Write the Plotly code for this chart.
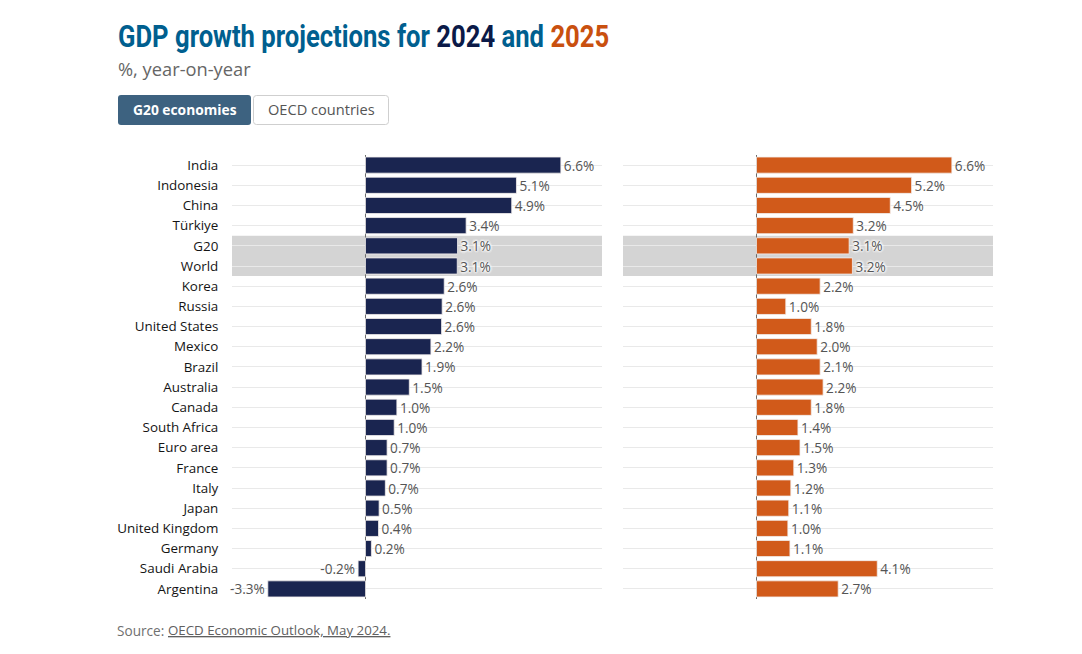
import plotly.graph_objects as go
from plotly.subplots import make_subplots

W = 1082
H = 654

countries = ['India', 'Indonesia', 'China', 'Türkiye', 'G20', 'World', 'Korea', 'Russia',
             'United States', 'Mexico', 'Brazil', 'Australia', 'Canada', 'South Africa',
             'Euro area', 'France', 'Italy', 'Japan', 'United Kingdom', 'Germany',
             'Saudi Arabia', 'Argentina']

# bar lengths, labels as printed
growth_2024 = [6.6, 5.1, 4.94, 3.4, 3.11, 3.1, 2.66, 2.59, 2.57, 2.21, 1.91, 1.48,
               1.06, 0.97, 0.73, 0.73, 0.67, 0.46, 0.44, 0.2, -0.25, -3.3]
growth_2025 = [6.6, 5.24, 4.52, 3.27, 3.13, 3.24, 2.15, 0.99, 1.85, 2.05, 2.15, 2.25,
               1.85, 1.4, 1.47, 1.26, 1.16, 1.09, 1.06, 1.13, 4.08, 2.76]
labels_2024 = ['6.6%', '5.1%', '4.9%', '3.4%', '3.1%', '3.1%', '2.6%', '2.6%', '2.6%', '2.2%', '1.9%',
               '1.5%', '1.0%', '1.0%', '0.7%', '0.7%', '0.7%', '0.5%', '0.4%', '0.2%', '-0.2%', '-3.3%']
labels_2025 = ['6.6%', '5.2%', '4.5%', '3.2%', '3.1%', '3.2%', '2.2%', '1.0%', '1.8%', '2.0%', '2.1%',
               '2.2%', '1.8%', '1.4%', '1.5%', '1.3%', '1.2%', '1.1%', '1.0%', '1.1%', '4.1%', '2.7%']
highlighted = ['G20', 'World']

NAVY = '#1a2550'
ORANGE = '#d15a1a'
FONT = 'Open Sans'
HALO = '0 0 3px #fff, 0 0 3px #fff, 0 0 3px #fff, 0 0 3px #fff, 0 0 3px #fff'


def px_x(x):
    return x / W


def px_y(y):
    return 1 - y / H


def rounded_rect(x0, y0, x1, y1, r=3):
    x0, x1 = px_x(x0), px_x(x1)
    y0, y1 = px_y(y0), px_y(y1)
    rx, ry = r / W, r / H
    return (f'M{x0 + rx},{y0} L{x1 - rx},{y0} Q{x1},{y0} {x1},{y0 - ry} L{x1},{y1 + ry} '
            f'Q{x1},{y1} {x1 - rx},{y1} L{x0 + rx},{y1} Q{x0},{y1} {x0},{y1 + ry} '
            f'L{x0},{y0 - ry} Q{x0},{y0} {x0 + rx},{y0} Z')


fig = make_subplots(rows=1, cols=2)

for col, values, labels, color in [(1, growth_2024, labels_2024, NAVY), (2, growth_2025, labels_2025, ORANGE)]:
    # highlighted rows go in their own trace, their labels get a white halo
    for special in [False, True]:
        rows = [i for i, c in enumerate(countries) if (c in highlighted) == special]
        fig.add_trace(go.Bar(y=[countries[i] for i in rows], x=[values[i] for i in rows], orientation='h',
                             text=[labels[i] for i in rows], textposition='outside', cliponaxis=False,
                             constraintext='none',
                             marker=dict(color=color, line=dict(color='#f2efee', width=0.8)),
                             textfont=dict(family=FONT, size=13.6, color='#555555',
                                           shadow=HALO if special else 'none'),
                             showlegend=False), row=1, col=col)

xaxis_style = dict(range=[-4.51, 7.99], showgrid=False, showticklabels=False, ticks='',
                   zeroline=True, zerolinecolor='#6b6b6b', zerolinewidth=1)
yaxis_style = dict(type='category', categoryorder='array', categoryarray=countries,
                   range=[21.5, -0.5], showgrid=True, gridcolor='#e9e9e9', gridwidth=1,
                   domain=[px_y(599), px_y(155)], showline=False)

fig.update_xaxes(domain=[px_x(232), px_x(602)], row=1, col=1, **xaxis_style)
fig.update_xaxes(domain=[px_x(623), px_x(993)], row=1, col=2, **xaxis_style)
fig.update_yaxes(row=1, col=1, ticks='outside', ticklen=10, tickcolor='rgba(0,0,0,0)',
                 tickfont=dict(family=FONT, size=13.4, color='#141414'), **yaxis_style)
fig.update_yaxes(row=1, col=2, showticklabels=False, **yaxis_style)

# grey band behind G20 and World
for xref in ['x domain', 'x2 domain']:
    fig.add_shape(type='rect', xref=xref, yref='y' if xref == 'x domain' else 'y2', x0=0, x1=1,
                  y0='G20', y1='World', y0shift=-0.5, y1shift=0.5, fillcolor='rgba(0,0,0,0.17)',
                  line_width=0, layer='below')

# fake tab buttons
fig.add_shape(type='path', xref='paper', yref='paper', path=rounded_rect(118, 95, 251, 125),
              fillcolor='#3d6280', line_width=0)
fig.add_shape(type='path', xref='paper', yref='paper', path=rounded_rect(253.5, 95.5, 388.5, 124.5),
              fillcolor='#ffffff', line=dict(color='#cfcfcf', width=1))


def note(x, y, text, size, color, **kwargs):
    fig.add_annotation(xref='paper', yref='paper', x=px_x(x), y=px_y(y), text=text, showarrow=False,
                       xanchor=kwargs.pop('xanchor', 'left'), yanchor='middle',
                       font=dict(family=FONT, size=size, color=color, **kwargs))


note(116, 68.5, '%, year-on-year', 18.3, '#666666')
note(184.5, 109.5, '<b>G20 economies</b>', 13.8, '#ffffff', xanchor='center')
note(321, 109, 'OECD countries', 14.6, '#555555', xanchor='center')
note(115, 630, 'Source:', 13.6, '#707070')
note(166, 630, 'OECD Economic Outlook, May 2024.', 13.3, '#606060', lineposition='under')

title_text = ('GDP growth projections for <span style="color:#0b1a48">2024</span> and '
              '<span style="color:#c9500f">2025</span>')

fig.update_layout(
    width=W, height=H,
    margin=dict(l=0, r=0, t=0, b=0),
    paper_bgcolor='white', plot_bgcolor='white',
    barmode='overlay', bargap=0.2,
    title=dict(text=f'<b>{title_text}</b>', x=px_x(118), xanchor='left', xref='paper',
               y=px_y(36.5), yanchor='middle', yref='paper',
               font=dict(family='Roboto', size=31, color='#005f8f')),
)

# no condensed face installed, so squeeze the title horizontally around its left edge
post = """
document.body.style.margin = '0';
document.querySelector('.gtitle').setAttribute('transform', 'translate(118,0) scale(0.827,1) translate(-118,0)');
"""
fig.write_html("out.html", config={'displayModeBar': False}, post_script=post)
